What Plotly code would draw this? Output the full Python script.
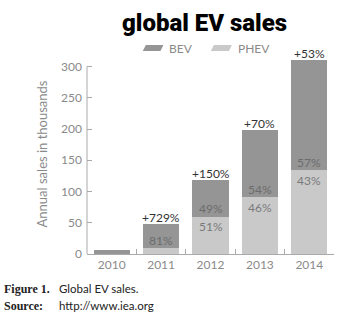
import plotly.graph_objects as go

years = ["2010", "2011", "2012", "2013", "2014"]
phev = [0, 9, 60, 91, 134]
bev = [5.8, 39, 58, 108, 177]
bev_pct = ["", "81%", "49%", "54%", "57%"]
phev_pct = ["", "", "51%", "46%", "43%"]
growth = ["", "+729%", "+150%", "+70%", "+53%"]
y_ticks = [0, 50, 100, 150, 200, 250, 300]

BEV_C = "#959595"
PHEV_C = "#c9c9c9"
AX_C = "#aaaaaa"
TXT_C = "#8a8a8a"
FONT = "Lato"

fig = go.Figure()
fig.add_trace(go.Bar(x=years, y=phev, name="PHEV", marker=dict(color=PHEV_C, line=dict(width=0)), showlegend=False))
fig.add_trace(go.Bar(x=years, y=bev, name="BEV", marker=dict(color=BEV_C, line=dict(width=0)), showlegend=False))

ann = []
for i, yr in enumerate(years):
    total = phev[i] + bev[i]
    if growth[i]:
        ann.append(dict(x=i, y=total, text=growth[i], showarrow=False, yanchor="bottom", yshift=-3,
                        font=dict(family=FONT, size=12, color="#333333")))
    if bev_pct[i]:
        ann.append(dict(x=i, y=phev[i], text=bev_pct[i], showarrow=False, yanchor="middle", yshift=8,
                        font=dict(family=FONT, size=12, color="#6c6c6c")))
    if phev_pct[i]:
        ann.append(dict(x=i, y=phev[i], text=phev_pct[i], showarrow=False, yanchor="middle", yshift=-10,
                        font=dict(family=FONT, size=12, color="#7a7a7a")))

W, H = 343, 319
L, R, T, B = 87, 9.4, 53.5, 65
pw, ph = W - L - R, H - T - B

def px(x):
    return (x - L) / pw

def py(y):
    return (H - B - y) / ph

# title
ann.append(dict(xref="paper", yref="paper", x=px(204), y=py(22), text="global EV sales", showarrow=False,
                xanchor="center", yanchor="middle",
                font=dict(family="Roboto", size=24, color="#000000", weight=900)))
# legend text
ann.append(dict(xref="paper", yref="paper", x=px(167), y=py(47.5), text="BEV", showarrow=False,
                xanchor="left", yanchor="middle", font=dict(family=FONT, size=12, color=TXT_C)))
ann.append(dict(xref="paper", yref="paper", x=px(236), y=py(47.5), text="PHEV", showarrow=False,
                xanchor="left", yanchor="middle", font=dict(family=FONT, size=12, color=TXT_C)))
# caption
ann.append(dict(xref="paper", yref="paper", x=px(2), y=py(289), text="<b>Figure 1.</b>", showarrow=False,
                xanchor="left", yanchor="middle", font=dict(family="Liberation Serif", size=12, color="#222222")))
ann.append(dict(xref="paper", yref="paper", x=px(57), y=py(289), text="Global EV sales.", showarrow=False,
                xanchor="left", yanchor="middle", font=dict(family="Lato", size=11.5, color="#222222")))
ann.append(dict(xref="paper", yref="paper", x=px(2), y=py(306), text="<b>Source:</b>", showarrow=False,
                xanchor="left", yanchor="middle", font=dict(family="Liberation Serif", size=12, color="#222222")))
ann.append(dict(xref="paper", yref="paper", x=px(57), y=py(306), text="http://www.iea.org", showarrow=False,
                xanchor="left", yanchor="middle", font=dict(family="Lato", size=11.5, color="#222222")))

def para(x0, x1, y0, y1, sl):
    return f"M {px(x0+sl)} {py(y0)} L {px(x1)} {py(y0)} L {px(x1-sl)} {py(y1)} L {px(x0)} {py(y1)} Z"

shapes = [
    dict(type="line", xref="paper", yref="y", x0=0, x1=0, y0=0, y1=300, line=dict(color=AX_C, width=1)),
    dict(type="path", xref="paper", yref="paper", path=para(142.7, 163.3, 44.5, 50.5, 3), fillcolor=BEV_C,
         line=dict(width=0)),
    dict(type="path", xref="paper", yref="paper", path=para(210.7, 231.7, 44.5, 50.5, 3), fillcolor=PHEV_C,
         line=dict(width=0)),
]

fig.update_layout(
    barmode="stack",
    bargap=0.27,
    width=W, height=H,
    margin=dict(l=L, r=R, t=T, b=B, pad=0),
    plot_bgcolor="white", paper_bgcolor="white",
    font=dict(family=FONT, color=TXT_C, size=12),
    annotations=ann,
    shapes=shapes,
    hovermode=False,
    xaxis=dict(type="category", showline=True, linecolor=AX_C, linewidth=1, ticks="inside", tickson="boundaries",
               ticklen=5, tickcolor=AX_C, showgrid=False, zeroline=False,
               tickfont=dict(family=FONT, size=12, color=TXT_C), range=[-0.5, 4.5]),
    yaxis=dict(range=[0, 320], tickvals=y_ticks, ticks="inside", ticklen=5, tickcolor=AX_C, showline=False,
               showgrid=False, zeroline=False, tickfont=dict(family=FONT, size=12, color=TXT_C),
               ticklabelstandoff=4,
               title=dict(text="Annual sales in thousands", font=dict(family=FONT, size=13, color=TXT_C), standoff=10)),
)

fig.write_html("out.html", config={"displayModeBar": False},
               post_script="document.body.style.margin='0px';document.body.style.padding='0px';")
